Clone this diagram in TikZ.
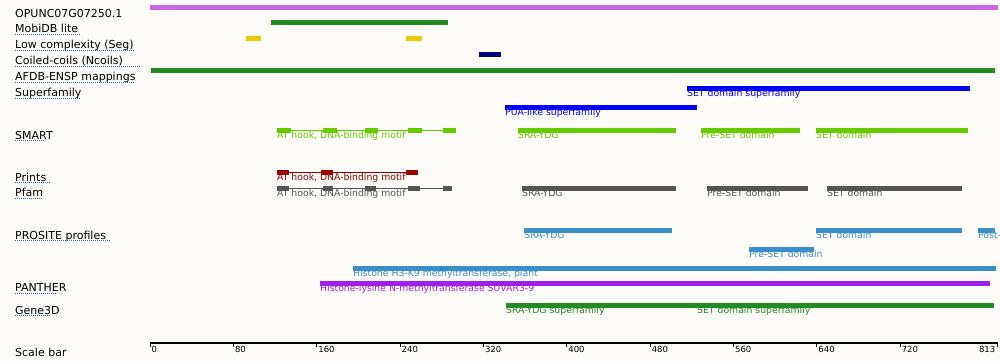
\documentclass[tikz,border=0pt]{standalone}
\usepackage{fontspec}
\setmainfont{DejaVu Sans}
\usetikzlibrary{positioning}

\definecolor{paper}{RGB}{253,252,248}
\definecolor{seqpurple}{RGB}{204,102,232}
\definecolor{fgreen}{RGB}{34,139,34}
\definecolor{seggold}{RGB}{240,200,0}
\definecolor{coilnavy}{RGB}{0,0,128}
\definecolor{sfblue}{RGB}{0,0,255}
\definecolor{smartgreen}{RGB}{102,204,0}
\definecolor{printsred}{RGB}{153,0,0}
\definecolor{pfamgrey}{RGB}{85,85,85}
\definecolor{prositeblue}{RGB}{58,143,203}
\definecolor{pantherpurple}{RGB}{160,32,240}
\definecolor{linkblue}{RGB}{45,105,185}

\begin{document}
\begin{tikzpicture}[
    x=1pt, y=-1pt,
    trackname/.style={anchor=base west, inner sep=0pt, font=\fontsize{11}{12}\selectfont},
    trackline/.style={draw=linkblue, line width=0.9pt, dash pattern=on 1pt off 1pt},
    bar/.style={line width=5pt},
    motif/.style={line width=4.5pt},
    joiner/.style={line width=1pt},
    featlabel/.style={anchor=base west, inner sep=0pt, font=\fontsize{9.3}{10}\selectfont},
    ticklabel/.style={anchor=base west, inner sep=0pt, font=\fontsize{8.5}{9}\selectfont}
]

% Background and margins
\fill[paper] (0,0) rectangle (1000,361);
\useasboundingbox (0,0) rectangle (1000,361);

% Track names
\node[trackname] (seqname) at (15,17.7) {OPUNC07G07250.1};
\foreach \yy/\ul/\txt [count=\i] in {
    32.5/80/MobiDB lite,
    48.5/135/Low complexity (Seg),
    64.5/141/Coiled-coils (Ncoils),
    80.5/135/AFDB-ENSP mappings,
    96.5/81/Superfamily,
    139/45/SMART,
    181/51/Prints,
    196.5/42/Pfam,
    239/111/PROSITE profiles,
    291.7/57/PANTHER,
    314/51/Gene3D} {
  \node[trackname] (track\i) at (15,\yy) {\txt};
  \draw[trackline] (15,\yy+1.8) -- (\ul,\yy+1.8);
}
\node[trackname] (scalename) at (15,356) {Scale bar};

% Sequence, MobiDB, Seg, Ncoils, AFDB
\draw[bar, seqpurple] (150,7.5) -- (998,7.5);
\draw[bar, fgreen] (271,22.5) -- (448,22.5);
\draw[bar, seggold] (246,38.3) -- (261,38.3);
\draw[bar, seggold] (406,38.3) -- (422,38.3);
\draw[bar, coilnavy] (479,54.5) -- (501,54.5);
\draw[bar, fgreen] (151,70.5) -- (995,70.5);

% Superfamily
\draw[bar, sfblue] (687,88.5) -- (970,88.5);
\node[featlabel, sfblue] (sfSET) at (687,96.7) {SET domain superfamily};
\draw[bar, sfblue] (505,107.5) -- (697,107.5);
\node[featlabel, sfblue] (sfPUA) at (505,115.7) {PUA-like superfamily};

% SMART
\draw[joiner, smartgreen] (277,130.3) -- (456,130.3);
\foreach \a/\b in {277/291,323/337,365/378,408/422,443/456}
  \draw[motif, smartgreen] (\a,130.3) -- (\b,130.3);
\node[featlabel, smartgreen] (smartAT) at (277,138.3) {AT hook, DNA-binding motif};
\draw[bar, smartgreen] (518,130.3) -- (676,130.3);
\node[featlabel, smartgreen] (smartSRA) at (518,138.3) {SRA-YDG};
\draw[bar, smartgreen] (701,130.3) -- (800,130.3);
\node[featlabel, smartgreen] (smartPre) at (701,138.3) {Pre-SET domain};
\draw[bar, smartgreen] (816,130.3) -- (968,130.3);
\node[featlabel, smartgreen] (smartSET) at (816,138.3) {SET domain};

% Prints
\draw[joiner, printsred] (277,172.4) -- (418,172.4);
\foreach \a/\b in {277/289,321/333,406/418}
  \draw[motif, printsred] (\a,172.4) -- (\b,172.4);
\node[featlabel, printsred] (printsAT) at (277,180.7) {AT hook, DNA-binding motif};

% Pfam
\draw[joiner, pfamgrey] (277,188.4) -- (452,188.4);
\foreach \a/\b in {277/289,323/333,365/376,408/420,443/452}
  \draw[motif, pfamgrey] (\a,188.4) -- (\b,188.4);
\node[featlabel, pfamgrey] (pfamAT) at (277,196.3) {AT hook, DNA-binding motif};
\draw[bar, pfamgrey] (522,188.4) -- (676,188.4);
\node[featlabel, pfamgrey] (pfamSRA) at (522,196.3) {SRA-YDG};
\draw[bar, pfamgrey] (707,188.4) -- (808,188.4);
\node[featlabel, pfamgrey] (pfamPre) at (707,196.3) {Pre-SET domain};
\draw[bar, pfamgrey] (827,188.4) -- (962,188.4);
\node[featlabel, pfamgrey] (pfamSET) at (827,196.3) {SET domain};

% PROSITE profiles
\draw[bar, prositeblue] (524,230.5) -- (672,230.5);
\node[featlabel, prositeblue] (psSRA) at (524,238.7) {SRA-YDG};
\draw[bar, prositeblue] (816,230.5) -- (962,230.5);
\node[featlabel, prositeblue] (psSET) at (816,238.7) {SET domain};
\draw[bar, prositeblue] (978,230.5) -- (995,230.5);
\node[featlabel, prositeblue] (psPost) at (978,238.7) {Post-};
\draw[bar, prositeblue] (749,249.5) -- (814,249.5);
\node[featlabel, prositeblue] (psPre) at (749,257.7) {Pre-SET domain};

% PANTHER
\draw[bar, prositeblue] (353,268.5) -- (996,268.5);
\node[featlabel, prositeblue] (pthPlant) at (353,276.7) {Histone H3-K9 methyltransferase, plant};
\draw[bar, pantherpurple] (320,283.5) -- (990,283.5);
\node[featlabel, pantherpurple] (pthSuvar) at (320,291.7) {Histone-lysine N-methyltransferase SUVAR3-9};

% Gene3D
\draw[bar, fgreen] (506,305.5) -- (994,305.5);
\node[featlabel, fgreen] (g3dSRA) at (506,313.3) {SRA-YDG superfamily};
\node[featlabel, fgreen] (g3dSET) at (697,313.3) {SET domain superfamily};

% Scale bar
\draw[line width=1.5pt] (150,343) -- (998,343);
\foreach \v in {0,80,...,720} {
  \pgfmathsetmacro{\tx}{150+\v*1.0418}
  \draw[line width=0.8pt] (\tx,343) -- (\tx,347);
  \node[ticklabel] (tick\v) at (\tx+1.5,352) {\v};
}
\draw[line width=0.8pt] (997,343) -- (997,347);
\node[ticklabel, anchor=base east] (tick813) at (995.5,352) {813};

\end{tikzpicture}
\end{document}
